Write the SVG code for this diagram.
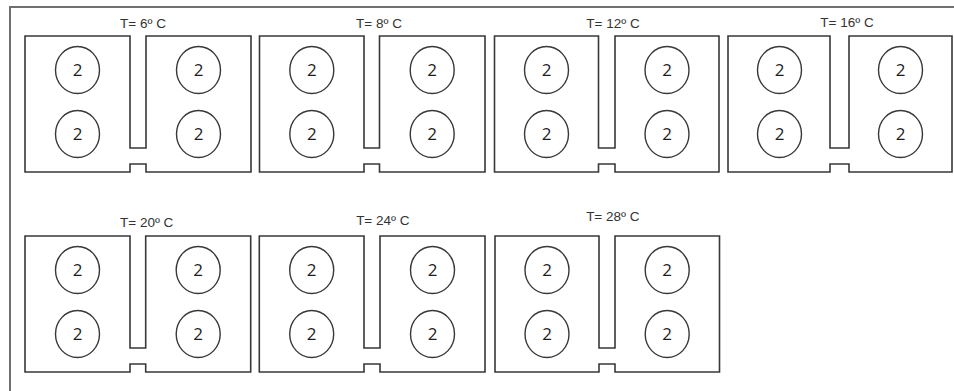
<svg xmlns="http://www.w3.org/2000/svg" width="954" height="391" viewBox="0 0 954 391">
  <style>
    .frame { fill: none; stroke: #707070; stroke-width: 2; }
    .tank { fill: #ffffff; stroke: #383838; stroke-width: 1.6; stroke-linejoin: miter; }
    .cell { fill: #ffffff; stroke: #383838; stroke-width: 1.4; }
    .temp { font-family: "Liberation Sans", Arial, sans-serif; font-size: 13.5px; fill: #333333; text-anchor: middle; }
    .num { font-family: "Open Sans", "Liberation Sans", sans-serif; font-size: 17px; fill: #1e1e1e; text-anchor: middle; }
  </style>
  <rect width="954" height="391" fill="#ffffff"/>

  <!-- outer frame: top and left edges -->
  <path class="frame" d="M10,391 V7 H954"/>

  <!-- row 1 -->
  <g id="unit-6C">
    <text class="temp" x="143" y="28">T= 6º C</text>
    <path class="tank" d="M130,36 V148 H146 V36 H251 V172 H146 V164 H130 V172 H25 V36 Z"/>
    <ellipse class="cell" cx="77.5" cy="70" rx="22" ry="23.5"/>
    <ellipse class="cell" cx="77.5" cy="134" rx="22" ry="23.5"/>
    <ellipse class="cell" cx="198.5" cy="70" rx="22" ry="23.5"/>
    <ellipse class="cell" cx="198.5" cy="134" rx="22" ry="23.5"/>
    <text class="num" x="77.5" y="76">2</text>
    <text class="num" x="77.5" y="140">2</text>
    <text class="num" x="198.5" y="76">2</text>
    <text class="num" x="198.5" y="140">2</text>
  </g>

  <g id="unit-8C">
    <text class="temp" x="379" y="28">T= 8º C</text>
    <path class="tank" d="M364,36 V148 H379.5 V36 H485 V172 H379.5 V164 H364 V172 H259.5 V36 Z"/>
    <ellipse class="cell" cx="311.8" cy="70" rx="22" ry="23.5"/>
    <ellipse class="cell" cx="311.8" cy="134" rx="22" ry="23.5"/>
    <ellipse class="cell" cx="432.2" cy="70" rx="22" ry="23.5"/>
    <ellipse class="cell" cx="432.2" cy="134" rx="22" ry="23.5"/>
    <text class="num" x="311.8" y="76">2</text>
    <text class="num" x="311.8" y="140">2</text>
    <text class="num" x="432.2" y="76">2</text>
    <text class="num" x="432.2" y="140">2</text>
  </g>

  <g id="unit-12C">
    <text class="temp" x="613" y="28">T= 12º C</text>
    <path class="tank" d="M598.5,36 V148 H615 V36 H719 V172 H615 V164 H598.5 V172 H494.5 V36 Z"/>
    <ellipse class="cell" cx="546.5" cy="70" rx="22" ry="23.5"/>
    <ellipse class="cell" cx="546.5" cy="134" rx="22" ry="23.5"/>
    <ellipse class="cell" cx="667" cy="70" rx="22" ry="23.5"/>
    <ellipse class="cell" cx="667" cy="134" rx="22" ry="23.5"/>
    <text class="num" x="546.5" y="76">2</text>
    <text class="num" x="546.5" y="140">2</text>
    <text class="num" x="667" y="76">2</text>
    <text class="num" x="667" y="140">2</text>
  </g>

  <g id="unit-16C">
    <text class="temp" x="847" y="27">T= 16º C</text>
    <path class="tank" d="M830,36 V148 H849 V36 H952 V172 H849 V164 H830 V172 H728 V36 Z"/>
    <ellipse class="cell" cx="779.5" cy="70" rx="22" ry="23.5"/>
    <ellipse class="cell" cx="779.5" cy="134" rx="22" ry="23.5"/>
    <ellipse class="cell" cx="900.5" cy="70" rx="22" ry="23.5"/>
    <ellipse class="cell" cx="900.5" cy="134" rx="22" ry="23.5"/>
    <text class="num" x="779.5" y="76">2</text>
    <text class="num" x="779.5" y="140">2</text>
    <text class="num" x="900.5" y="76">2</text>
    <text class="num" x="900.5" y="140">2</text>
  </g>

  <!-- row 2 -->
  <g id="unit-20C">
    <text class="temp" x="146.7" y="227">T= 20º C</text>
    <path class="tank" d="M130,236 V348 H145.7 V236 H250.7 V372 H145.7 V364 H130 V372 H25 V236 Z"/>
    <ellipse class="cell" cx="77.5" cy="270" rx="22" ry="23.5"/>
    <ellipse class="cell" cx="77.5" cy="334" rx="22" ry="23.5"/>
    <ellipse class="cell" cx="198.2" cy="270" rx="22" ry="23.5"/>
    <ellipse class="cell" cx="198.2" cy="334" rx="22" ry="23.5"/>
    <text class="num" x="77.5" y="276">2</text>
    <text class="num" x="77.5" y="340">2</text>
    <text class="num" x="198.2" y="276">2</text>
    <text class="num" x="198.2" y="340">2</text>
  </g>

  <g id="unit-24C">
    <text class="temp" x="382.8" y="225">T= 24º C</text>
    <path class="tank" d="M364,236 V348 H380 V236 H485 V372 H380 V364 H364 V372 H259.3 V236 Z"/>
    <ellipse class="cell" cx="311.7" cy="270" rx="22" ry="23.5"/>
    <ellipse class="cell" cx="311.7" cy="334" rx="22" ry="23.5"/>
    <ellipse class="cell" cx="432.5" cy="270" rx="22" ry="23.5"/>
    <ellipse class="cell" cx="432.5" cy="334" rx="22" ry="23.5"/>
    <text class="num" x="311.7" y="276">2</text>
    <text class="num" x="311.7" y="340">2</text>
    <text class="num" x="432.5" y="276">2</text>
    <text class="num" x="432.5" y="340">2</text>
  </g>

  <g id="unit-28C">
    <text class="temp" x="612.8" y="221">T= 28º C</text>
    <path class="tank" d="M599,236 V348 H615 V236 H719.5 V372 H615 V364 H599 V372 H495 V236 Z"/>
    <ellipse class="cell" cx="547" cy="270" rx="22" ry="23.5"/>
    <ellipse class="cell" cx="547" cy="334" rx="22" ry="23.5"/>
    <ellipse class="cell" cx="667.2" cy="270" rx="22" ry="23.5"/>
    <ellipse class="cell" cx="667.2" cy="334" rx="22" ry="23.5"/>
    <text class="num" x="547" y="276">2</text>
    <text class="num" x="547" y="340">2</text>
    <text class="num" x="667.2" y="276">2</text>
    <text class="num" x="667.2" y="340">2</text>
  </g>

  <!-- no connectors between units -->
  <g id="connectors"/>
</svg>
